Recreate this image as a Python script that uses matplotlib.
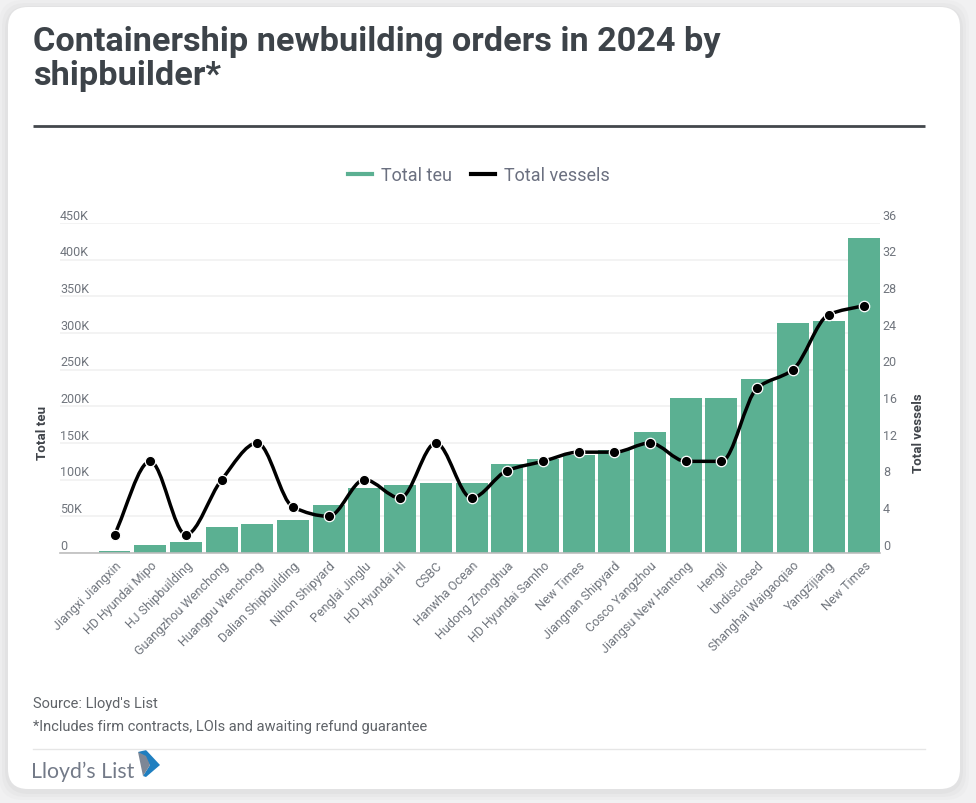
import numpy as np
import matplotlib
matplotlib.use("Agg")
import matplotlib.pyplot as plt
from matplotlib.lines import Line2D
from matplotlib.patches import FancyBboxPatch, PathPatch, Polygon
from matplotlib.path import Path
from matplotlib.transforms import ScaledTranslation

W, H = 976, 804
plt.rcParams['font.family'] = ['Roboto', 'DejaVu Sans']

shipbuilders = ["Jiangxi Jiangxin", "HD Hyundai Mipo", "HJ Shipbuilding", "Guangzhou Wenchong",
                "Huangpu Wenchong", "Dalian Shipbuilding", "Nihon Shipyard", "Penglai Jinglu",
                "HD Hyundai HI", "CSBC", "Hanwha Ocean", "Hudong Zhonghua", "HD Hyundai Samho",
                "New Times", "Jiangnan Shipyard", "Cosco Yangzhou", "Jiangsu New Hantong", "Hengli",
                "Undisclosed", "Shanghai Waigaoqiao", "Yangzijiang", "New Times"]
total_teu = [3000, 11000, 15500, 36000, 40000, 45000, 65000, 88000, 93000, 96000, 96000,
             122000, 128000, 133000, 140000, 165000, 212000, 212000, 237000, 314000, 316000, 430000]
total_vessels = [2, 10, 2, 8, 12, 5, 4, 8, 6, 12, 6, 9, 10, 11, 11, 12, 10, 10, 18, 20, 26, 27]
teu_ticks = [0, 50000, 100000, 150000, 200000, 250000, 300000, 350000, 400000, 450000]
teu_tick_labels = ["0", "50K", "100K", "150K", "200K", "250K", "300K", "350K", "400K", "450K"]
vessel_ticks = [0, 4, 8, 12, 16, 20, 24, 28, 32, 36]

GREEN = "#5bb092"
DARK = "#3d4349"
GREY = "#70757d"

fig = plt.figure(figsize=(W / 100, H / 100), dpi=100, facecolor="#f1f1f2")

# page overlay in pixel coordinates (y down)
bg = fig.add_axes([0, 0, 1, 1], zorder=0)
bg.set_xlim(0, W); bg.set_ylim(H, 0); bg.axis("off")
for grow, alpha in [(9, .05), (6, .07), (3, .10)]:
    bg.add_patch(FancyBboxPatch((8 - grow, 8 - grow + 2), 952 + 2 * grow, 782 + 2 * grow,
                                boxstyle="round,pad=0,rounding_size=24", fc="#b0b0b0", ec="none", alpha=alpha))
bg.add_patch(FancyBboxPatch((8, 8), 952, 782, boxstyle="round,pad=0,rounding_size=20", fc="white", ec="none"))
bg.text(33, 42, "Containership newbuilding orders in 2024 by", fontsize=24.7, fontweight="bold", color=DARK, va="center")
bg.text(33, 76, "shipbuilder*", fontsize=24.7, fontweight="bold", color=DARK, va="center")
bg.plot([33, 925], [127, 127], color="#43474c", lw=2, solid_capstyle="butt")
bg.text(33, 704, "Source: Lloyd's List", fontsize=10.5, color="#5f6368", va="center")
bg.text(33, 727, "*Includes firm contracts, LOIs and awaiting refund guarantee", fontsize=10.5, color="#5f6368", va="center")
bg.plot([33, 925], [750, 750], color="#e6e6e6", lw=1)
bg.text(31, 772, "Lloyd\u2019s List", fontsize=15.3, color="#737a88", va="center", family="Lato")
bg.add_patch(Polygon([(138, 753), (146, 751), (160, 766), (146, 778), (143, 777), (150, 766)], fc="#1f7fc0", ec="none"))
bg.add_patch(Polygon([(138, 753), (146, 757), (150, 766), (143, 777)], fc="#7d8796", ec="none"))

# chart
L, R, T, B = 60, 880, 224, 554
ax = fig.add_axes([L / W, 1 - B / H, (R - L) / W, (B - T) / H], zorder=1)
ax.patch.set_alpha(0)
x = np.arange(len(shipbuilders))
ax.bar(x, total_teu, width=0.895, color=GREEN, linewidth=0, zorder=2)
ax.set_xlim(-1.527, 21.44)
ax.set_ylim(0, 450000)
ax.set_yticks(teu_ticks, teu_tick_labels)
ax.grid(axis="y", color="#f1f1f1", lw=1.2, zorder=0)
ax.set_axisbelow(True)
for s in ["top", "left", "right"]:
    ax.spines[s].set_visible(False)
ax.spines["bottom"].set_color("#bdbdbd")
ax.spines["bottom"].set_linewidth(1.2)
ax.tick_params(axis="y", length=0, pad=0, labelsize=9, labelcolor=GREY)
up = ScaledTranslation(0, 1.5 / 100, fig.dpi_scale_trans)
for t in ax.get_yticklabels():
    t.set_ha("left"); t.set_va("bottom")
    t.set_transform(t.get_transform() + up)
ax.set_xticks(x, shipbuilders, rotation=45, ha="right", rotation_mode="anchor")
ax.tick_params(axis="x", length=0, pad=4, labelsize=9, labelcolor=GREY)
ax.set_ylabel("Total teu", fontsize=9.6, fontweight="bold", color="#40444a", va="center")
ax.yaxis.set_label_coords((43 - L) / (R - L), (B - 433) / (B - T))

ax2 = ax.twinx()
ax2.set_zorder(3)
ax2.patch.set_alpha(0)
ax2.set_ylim(0, 36)
ax2.set_yticks(vessel_ticks, [str(v) for v in vessel_ticks])
ax2.tick_params(axis="y", length=0, pad=2, labelsize=9, labelcolor=GREY)
for t in ax2.get_yticklabels():
    t.set_va("bottom")
    t.set_transform(t.get_transform() + up)
for s in ax2.spines.values():
    s.set_visible(False)
ax2.set_ylabel("Total vessels", fontsize=9.5, fontweight="bold", color="#40444a", rotation=90, va="center")
ax2.yaxis.set_label_coords((919 - L) / (R - L), (B - 433) / (B - T))


def monotone_path(xs, ys):
    """Monotone cubic Bezier path through the given points (no extra data)."""
    xs = np.asarray(xs, float); ys = np.asarray(ys, float)
    h = np.diff(xs); s = np.diff(ys) / h
    m = np.zeros_like(ys)
    for i in range(1, len(ys) - 1):
        if s[i - 1] * s[i] > 0:
            m[i] = 2 * s[i - 1] * s[i] / (s[i - 1] + s[i])
    m[0], m[-1] = s[0], s[-1]
    verts = [(xs[0], ys[0])]; codes = [Path.MOVETO]
    for i in range(len(h)):
        verts += [(xs[i] + h[i] / 3, ys[i] + m[i] * h[i] / 3),
                  (xs[i + 1] - h[i] / 3, ys[i + 1] - m[i + 1] * h[i] / 3),
                  (xs[i + 1], ys[i + 1])]
        codes += [Path.CURVE4] * 3
    return Path(verts, codes)


ax2.add_patch(PathPatch(monotone_path(x, total_vessels), fc="none", ec="black", lw=2.5, zorder=4))
ax2.plot(x, total_vessels, ls="none", marker="o", ms=7.5, mfc="black", mec="white", mew=0.9, zorder=5, clip_on=False)

handles = [Line2D([], [], color=GREEN, lw=3), Line2D([], [], color="black", lw=3)]
fig.legend(handles, ["Total teu", "Total vessels"], loc="center", bbox_to_anchor=(479 / W, 1 - 176 / H),
           ncol=2, frameon=False, fontsize=13, labelcolor="#6b7080", handlelength=1.33,
           handletextpad=0.5, columnspacing=1.05, borderpad=0)

fig.savefig("out.png", dpi=100, facecolor=fig.get_facecolor())
